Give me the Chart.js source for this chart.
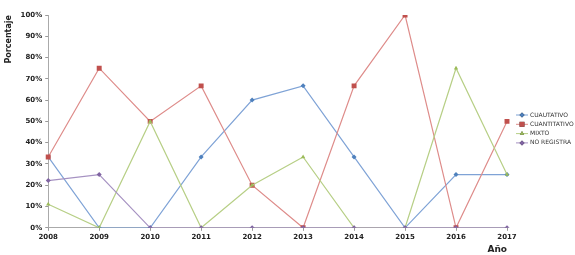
<!DOCTYPE html>
<html><head><meta charset="utf-8">
<script src="https://cdn.jsdelivr.net/npm/chart.js@4"></script>
<style>html,body{margin:0;padding:0;background:#fff}#w{width:575px;height:255px}</style>
</head><body><div id="w"><canvas id="c"></canvas></div>
<script>
const years = ['2008','2009','2010','2011','2012','2013','2014','2015','2016','2017'];
const cualitativo = [33.3, 0, 0, 33.3, 60, 66.7, 33.3, 0, 25, 25];
const cuantitativo = [33.3, 75, 50, 66.7, 20, 0, 66.7, 100, 0, 50];
const mixto = [11.1, 0, 50, 0, 20, 33.3, 0, 0, 75, 25];
const noRegistra = [22.2, 25, 0, 0, 0, 0, 0, 0, 0, 0];
const seriesNames = ['CUAUTATIVO','CUANTITATIVO','MIXTO','NO REGISTRA'];

const styles = [
  {line:'#7FA3D6', pt:'#4F81BD', ps:'rectRot', r:2.5},
  {line:'#DE8C8A', pt:'#C0504D', ps:'rect', r:3.5},
  {line:'#B7CF86', pt:'#9BBB59', ps:'triangle', r:2.5},
  {line:'#A692C2', pt:'#8064A2', ps:'rectRot', r:2.5}
];
const vals = [cualitativo, cuantitativo, mixto, noRegistra];

const legendPlugin = {
  id:'customLegend',
  afterDraw(chart){
    const ctx = chart.ctx;
    ctx.save();
    ctx.font = '6px "DejaVu Sans"';
    ctx.textBaseline = 'middle';
    seriesNames.forEach((n,i)=>{
      const y = 115 + i*9.3;
      const s = styles[i];
      ctx.strokeStyle = s.line; ctx.lineWidth = 1;
      ctx.beginPath(); ctx.moveTo(516,y); ctx.lineTo(528,y); ctx.stroke();
      Chart.helpers.drawPoint(ctx,{pointStyle:s.ps, radius:s.r, borderWidth:0}, 522, y);
      ctx.fillStyle = s.pt; ctx.fill();
      ctx.fillStyle = '#333';
      ctx.fillText(n, 530, y);
    });
    ctx.restore();
  }
};

new Chart(document.getElementById('c'), {
  type:'line',
  data:{
    labels: years,
    datasets: vals.map((v,i)=>({
      label: seriesNames[i],
      data: v,
      borderColor: styles[i].line,
      borderWidth: 1.2,
      backgroundColor: styles[i].pt,
      pointBackgroundColor: styles[i].pt,
      pointBorderColor: styles[i].pt,
      pointBorderWidth: 0,
      pointStyle: styles[i].ps,
      pointRadius: styles[i].r,
      tension: 0,
      order: 4-i
    }))
  },
  options:{
    responsive:true, maintainAspectRatio:false, animation:false,
    layout:{padding:{top:15,right:68,left:4,bottom:0}},
    plugins:{legend:{display:false}, tooltip:{enabled:false}},
    scales:{
      x:{
        offset:false,
        grid:{drawOnChartArea:false, tickLength:3, color:'#999'},
        border:{color:'#aaa', width:1},
        ticks:{font:{family:'DejaVu Sans', size:7, weight:'bold'}, color:'#222', padding:2, maxRotation:0},
        title:{display:true, text:'Año', align:'end', font:{family:'DejaVu Sans', size:9, weight:'bold'}, color:'#222', padding:{top:1,bottom:0}}
      },
      y:{
        min:0, max:100,
        grid:{drawOnChartArea:false, tickLength:3, color:'#999'},
        border:{color:'#aaa', width:1},
        ticks:{stepSize:10, callback:v=>v+'%', font:{family:'DejaVu Sans', size:7, weight:'bold'}, color:'#222', padding:3},
        title:{display:true, text:'Porcentaje', align:'end', font:{family:'DejaVu Sans', size:8, weight:'bold'}, color:'#222', padding:{top:0,bottom:4}}
      }
    }
  },
  plugins:[legendPlugin]
});
</script>
</body></html>
